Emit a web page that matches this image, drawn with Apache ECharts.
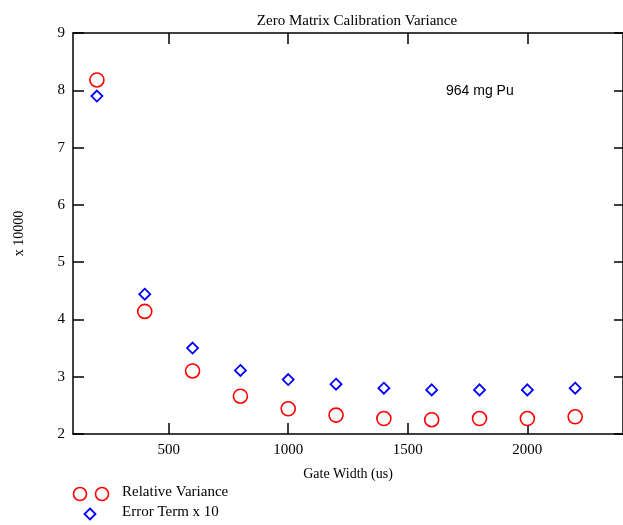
<!DOCTYPE html>
<html>
<head>
<meta charset="utf-8">
<script src="https://cdn.jsdelivr.net/npm/echarts@6/dist/echarts.min.js"></script>
<style>
  html, body { margin: 0; padding: 0; background: #fff; }
  #chart { width: 623px; height: 525px; }
</style>
</head>
<body>
<div id="chart"></div>
<script>
// Gate widths (us)
const gateWidths = [200, 400, 600, 800, 1000, 1200, 1400, 1600, 1800, 2000, 2200];
// Relative variance (x 10000)
const relativeVariance = [8.18, 4.14, 3.10, 2.66, 2.44, 2.33, 2.27, 2.25, 2.27, 2.27, 2.30];
// Error term x 10 (x 10000)
const errorTerm = [7.90, 4.44, 3.50, 3.11, 2.95, 2.87, 2.80, 2.77, 2.77, 2.77, 2.80];

const xTicks = [500, 1000, 1500, 2000];
const yTicks = [2, 3, 4, 5, 6, 7, 8, 9];

const serif = '"Liberation Serif", "Times New Roman", serif';
const sans = '"Liberation Sans", Arial, sans-serif';

const pairs = (ys) => gateWidths.map((x, i) => [x, ys[i]]);

const chart = echarts.init(document.getElementById('chart'), null, { renderer: 'canvas' });

const axisLine = { show: true, lineStyle: { color: '#000', width: 1.5 } };

chart.setOption({
  animation: false,
  backgroundColor: '#fff',
  title: {
    text: 'Zero Matrix Calibration Variance',
    left: 352, top: 9, textAlign: 'center',
    textStyle: { fontFamily: serif, fontSize: 15, fontWeight: 'normal', color: '#000' }
  },
  grid: { left: 73, right: -3, top: 33, bottom: 91, containLabel: false },
  xAxis: [{
    type: 'value', min: 100, max: 2400, interval: 500,
    position: 'bottom',
    name: 'Gate Width (us)', nameLocation: 'middle', nameGap: 33,
    nameTextStyle: { fontFamily: serif, fontSize: 14, color: '#000' },
    axisLine: axisLine,
    axisTick: { show: true, inside: true, length: 11, lineStyle: { color: '#000', width: 1.5 },
      customValues: xTicks },
    axisLabel: { fontFamily: serif, fontSize: 15, color: '#000', margin: 9,
      customValues: xTicks, formatter: (v) => String(v) },
    splitLine: { show: false }
  }, {
    type: 'value', min: 100, max: 2400, interval: 500,
    position: 'top',
    axisLine: axisLine,
    axisTick: { show: true, inside: true, length: 11, lineStyle: { color: '#000', width: 1.5 },
      customValues: xTicks },
    axisLabel: { show: false },
    splitLine: { show: false }
  }],
  yAxis: [{
    type: 'value', min: 2, max: 9, interval: 1,
    position: 'left',
    name: 'x 10000', nameLocation: 'middle', nameGap: 47, nameRotate: 90,
    nameTextStyle: { fontFamily: serif, fontSize: 14, color: '#000' },
    axisLine: axisLine,
    axisTick: { show: true, inside: true, length: 11, lineStyle: { color: '#000', width: 1.5 },
      customValues: yTicks },
    axisLabel: { fontFamily: serif, fontSize: 15, color: '#000', margin: 8,
      customValues: yTicks, formatter: (v) => String(v) },
    splitLine: { show: false }
  }, {
    type: 'value', min: 2, max: 9, interval: 1,
    position: 'right',
    axisLine: axisLine,
    axisTick: { show: true, inside: true, length: 9, lineStyle: { color: '#000', width: 1.5 } },
    axisLabel: { show: false },
    splitLine: { show: false }
  }],
  series: [{
    name: 'Relative Variance',
    type: 'scatter',
    data: pairs(relativeVariance),
    symbol: 'circle', symbolSize: 14,
    itemStyle: { color: '#fff', borderColor: '#ff0000', borderWidth: 1.6, opacity: 1 },
    z: 3
  }, {
    name: 'Error Term x 10',
    type: 'scatter',
    data: pairs(errorTerm),
    symbol: 'diamond', symbolSize: [11, 11],
    itemStyle: { color: 'rgba(0,0,0,0)', borderColor: '#0000ff', borderWidth: 1.8, opacity: 1 },
    z: 4
  }],
  graphic: [
    { type: 'text', left: 446, top: 84,
      style: { text: '964 mg Pu', font: '14px ' + sans, fill: '#000' } },
    // legend key: relative variance
    { type: 'circle', shape: { cx: 80, cy: 494, r: 6.5 },
      style: { fill: 'none', stroke: '#ff0000', lineWidth: 1.6 } },
    { type: 'circle', shape: { cx: 102, cy: 494, r: 6.5 },
      style: { fill: 'none', stroke: '#ff0000', lineWidth: 1.6 } },
    { type: 'text', left: 122, top: 485,
      style: { text: 'Relative Variance', font: '15px ' + serif, fill: '#000' } },
    // legend key: error term
    { type: 'polygon', shape: { points: [[90, 508.5], [95.5, 514], [90, 519.5], [84.5, 514]] },
      style: { fill: 'none', stroke: '#0000ff', lineWidth: 1.8 } },
    { type: 'text', left: 122, top: 505,
      style: { text: 'Error Term x 10', font: '15px ' + serif, fill: '#000' } }
  ]
});
</script>
</body>
</html>
